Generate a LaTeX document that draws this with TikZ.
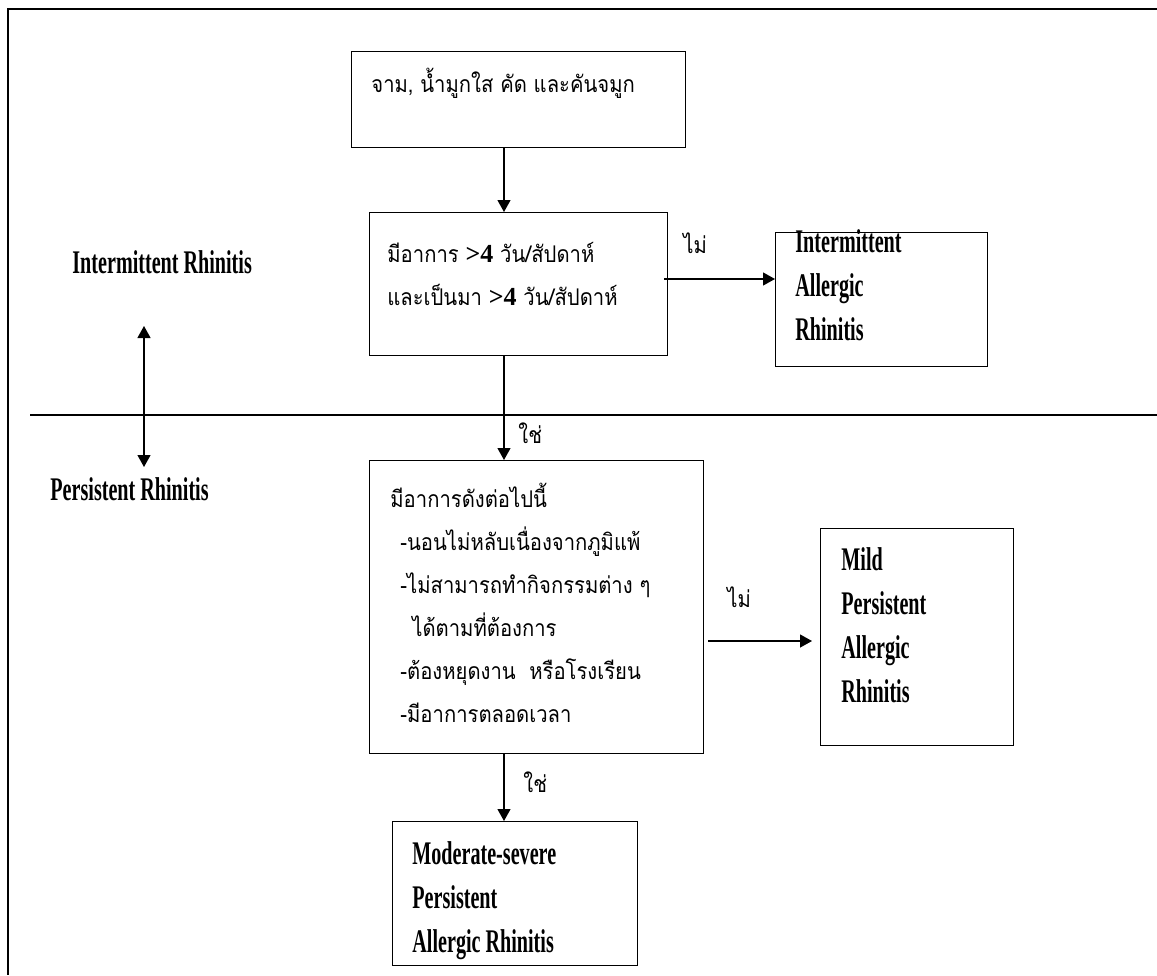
\documentclass[tikz,border=0pt]{standalone}
\usepackage{fontspec}
\usepackage{tikz}
\usetikzlibrary{arrows.meta}
\newfontfamily\thaifont[Script=Thai,FakeStretch=0.88]{Loma}
\newfontfamily\engfont[FakeStretch=0.61]{Liberation Serif}
\newfontfamily\numfont{Liberation Serif Bold}
\newcommand\bignum[1]{{\numfont\fontsize{13}{13}\selectfont #1}}

\tikzset{
  box/.style={draw, line width=0.7pt, inner sep=0pt, anchor=north west},
  thaitext/.style={anchor=base west, inner sep=0pt, align=left,
    font=\thaifont\fontsize{11.5}{21.5}\selectfont},
  engtext/.style={anchor=base west, inner sep=0pt, align=left,
    font=\engfont\bfseries\fontsize{16.5}{22}\selectfont},
  arr/.style={-{Triangle[length=6pt,width=6.5pt]}, line width=0.6pt},
}

\begin{document}
\begin{tikzpicture}[x=0.5pt, y=-0.5pt]
    \useasboundingbox (0,0) rectangle (1157,975);
    % page frame
    \draw [line width=1pt] (1157,9) -- (8,9) -- (8,975);

    % boxes
    \node [box, minimum width=167pt, minimum height=48pt] (symptoms) at (351,51) {};
    \node [box, minimum width=149pt, minimum height=71.5pt] (duration) at (369,212) {};
    \node [box, minimum width=167pt, minimum height=146.5pt] (severity) at (369,460) {};
    \node [box, minimum width=106pt, minimum height=67pt] (intermit) at (775,232) {};
    \node [box, minimum width=96.5pt, minimum height=108.5pt] (mild) at (820,528) {};
    \node [box, minimum width=122.5pt, minimum height=72pt] (modsev) at (392,821) {};

    % box texts (placed at the baseline of the last line)
    \node [thaitext] (symptomstext) at (371,92) {จาม, น้ำมูกใส คัด และคันจมูก};
    \node [thaitext] (durationtext) at (387,305)
        {มีอาการ \bignum{>4} วัน/สัปดาห์\\และเป็นมา \bignum{>4} วัน/สัปดาห์};
    \node [thaitext] (severitytext) at (390,722)
        {มีอาการดังต่อไปนี้\\
        \hspace*{5pt}-นอนไม่หลับเนื่องจากภูมิแพ้\\
        \hspace*{5pt}-ไม่สามารถทำกิจกรรมต่าง ๆ\\
        \hspace*{11pt}ได้ตามที่ต้องการ\\
        \hspace*{5pt}-ต้องหยุดงาน\ \ หรือโรงเรียน\\
        \hspace*{5pt}-มีอาการตลอดเวลา};
    \node [engtext] (intermittext) at (795,340) {Intermittent\\Allergic\\Rhinitis};
    \node [engtext] (mildtext) at (841,702) {Mild\\Persistent\\Allergic\\Rhinitis};
    \node [engtext] (modsevtext) at (412,952) {Moderate-severe\\Persistent\\Allergic Rhinitis};

    % side labels
    \node [engtext] (intermitlabel) at (72,273) {Intermittent Rhinitis};
    \node [engtext] (persistlabel) at (50,500) {Persistent Rhinitis};
    \coordinate (uptip) at (144,326);
    \coordinate (downtip) at (144,467);
    \draw [arr, {Triangle[length=6pt,width=6.5pt]}-{Triangle[length=6pt,width=6.5pt]}] (uptip) -- (downtip);

    % divider
    \coordinate (divleft) at (30,415);
    \coordinate (divright) at (1157,415);
    \draw [line width=0.8pt] (divleft) -- (divright);

    % connectors
    \coordinate (spine) at (504,0);
    \coordinate (norow) at (0,279);
    \coordinate (mildrow) at (0,641);
    \draw [arr] (symptoms.south -| spine) -- (duration.north -| spine);
    \draw [arr] (duration.south -| spine) -- (severity.north -| spine);
    \draw [arr] (severity.south -| spine) -- (modsev.north -| spine);
    \draw [arr] ([xshift=-2pt]duration.east |- norow) -- (intermit.west |- norow);
    \draw [arr] ([xshift=2pt]severity.east |- mildrow) -- ([xshift=-4pt]mild.west |- mildrow);

    % yes / no labels
    \node [thaitext] (no1) at (683,253) {ไม่};
    \node [thaitext] (no2) at (727,607) {ไม่};
    \node [thaitext] (yes1) at (518,443) {ใช่};
    \node [thaitext] (yes2) at (523,792) {ใช่};
\end{tikzpicture}
\end{document}
